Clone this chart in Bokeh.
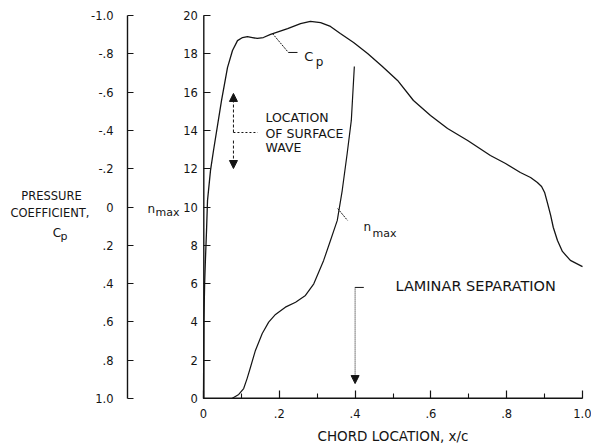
from bokeh.plotting import figure
from bokeh.models import Range1d, LinearAxis, FixedTicker, Label, Arrow, NormalHead, Grid
from bokeh.embed import file_html
from bokeh.resources import INLINE

# ---------------- data ----------------
cp_x = [0.0, 0.001, 0.003, 0.005, 0.008, 0.0106, 0.0185, 0.0264, 0.0475, 0.0633, 0.0765,
        0.0897, 0.103, 0.116, 0.129, 0.142, 0.158, 0.177, 0.222, 0.256, 0.282, 0.309,
        0.335, 0.361, 0.396, 0.433, 0.472, 0.512, 0.554, 0.599, 0.644, 0.697, 0.757,
        0.797, 0.836, 0.863, 0.881, 0.892, 0.900, 0.908, 0.916, 0.923, 0.934, 0.947,
        0.968, 1.0]
cp_val = [1.0, 0.6, 0.4, 0.279, 0.123, -0.034, -0.191, -0.295, -0.556, -0.728, -0.817,
          -0.869, -0.885, -0.890, -0.885, -0.880, -0.885, -0.901, -0.932, -0.958, -0.969, -0.963,
          -0.943, -0.906, -0.859, -0.802, -0.734, -0.661, -0.556, -0.478, -0.410, -0.347, -0.269,
          -0.227, -0.180, -0.154, -0.128, -0.107, -0.076, -0.018, 0.044, 0.107, 0.175, 0.232,
          0.279, 0.311]

nmax_x = [0.075, 0.093, 0.106, 0.115, 0.124, 0.137, 0.155, 0.172, 0.190, 0.216, 0.243,
          0.269, 0.291, 0.317, 0.335, 0.353, 0.366, 0.379, 0.390, 0.398]
nmax_val = [0.0, 0.21, 0.52, 1.04, 1.63, 2.51, 3.39, 3.99, 4.39, 4.77, 5.03,
            5.38, 5.99, 7.21, 8.25, 9.30, 10.86, 12.78, 14.52, 17.34]

x_ticks = [0, 0.2, 0.4, 0.6, 0.8, 1]
x_tick_labels = ["0", ".2", ".4", ".6", ".8", "1.0"]
x_minor_ticks = [0.1, 0.3, 0.5, 0.7, 0.9]
n_ticks = [0, 2, 4, 6, 8, 10, 12, 14, 16, 18, 20]
cp_ticks = [-1, -0.8, -0.6, -0.4, -0.2, 0, 0.2, 0.4, 0.6, 0.8, 1]
cp_tick_labels = ["-1.0", "-.8", "-.6", "-.4", "-.2", "0", ".2", ".4", ".6", ".8", "1.0"]

# ---------------- layout (pixels) ----------------
W, H = 591, 446
X0_PX, X1_PX = 203, 582      # x/c = 0 and x/c = 1
N0_PX, N20_PX = 398, 15      # n_max = 0 and n_max = 20
CP_AXIS_PX = 127             # Cp axis line
px_per_x = (X1_PX - X0_PX) / 1.0
px_per_n = (N0_PX - N20_PX) / 20.0
x_lo, x_hi = -X0_PX / px_per_x, (W - X0_PX) / px_per_x
n_lo, n_hi = -(H - N0_PX) / px_per_n, N0_PX / px_per_n
cp_lo, cp_hi = 1.0 - n_lo / 10.0, 1.0 - n_hi / 10.0
cp_axis_x = (CP_AXIS_PX - X0_PX) / px_per_x
n_axis_x = 0.3 / px_per_x        # n_max axis line position (x/c ~ 0)
x_axis_n = 0.3 / px_per_n        # x/c axis line position (n_max ~ 0)

INK = "#141414"
FONT = "DejaVu Sans"

p = figure(width=W, height=H, x_range=Range1d(x_lo, x_hi), y_range=Range1d(n_lo, n_hi),
           output_backend="svg", toolbar_location=None,
           x_axis_location=None, y_axis_location=None,
           min_border=0, min_border_left=0, min_border_right=0,
           min_border_top=0, min_border_bottom=0)
p.title.visible = False
p.extra_y_ranges = {"cp": Range1d(cp_lo, cp_hi)}
p.outline_line_color = None
p.background_fill_color = "white"
p.border_fill_color = "white"
for r in list(p.center):
    if isinstance(r, Grid):
        r.visible = False
        r.grid_line_color = None

def style_axis(ax):
    ax.axis_line_color = None
    ax.major_tick_line_color = INK
    ax.major_tick_line_width = 1.2
    ax.minor_tick_line_color = INK
    ax.minor_tick_line_width = 1.1
    ax.major_tick_out = 0
    ax.minor_tick_out = 0
    ax.major_label_text_font = FONT
    ax.major_label_text_font_size = "11.5px"
    ax.major_label_text_color = INK

# x/c axis
xa = LinearAxis(fixed_location=x_axis_n)
style_axis(xa)
xa.bounds = (x_ticks[0], x_ticks[-1])
xa.ticker = FixedTicker(ticks=x_ticks, minor_ticks=x_minor_ticks)
xa.major_label_overrides = dict(zip(x_ticks, x_tick_labels))
xa.major_tick_in = 8
xa.minor_tick_in = 5
xa.major_label_standoff = 11
p.add_layout(xa, "below")

# n_max axis
ya = LinearAxis(fixed_location=n_axis_x)
style_axis(ya)
ya.bounds = (n_ticks[0], n_ticks[-1])
ya.ticker = FixedTicker(ticks=n_ticks, minor_ticks=[])
ya.major_tick_in = 7
ya.minor_tick_in = 0
ya.major_label_standoff = 6
p.add_layout(ya, "left")

# Cp axis
cpa = LinearAxis(y_range_name="cp", fixed_location=cp_axis_x)
style_axis(cpa)
cpa.bounds = (cp_ticks[0], cp_ticks[-1])
cpa.ticker = FixedTicker(ticks=cp_ticks, minor_ticks=[])
cpa.major_label_overrides = dict(zip(cp_ticks, cp_tick_labels))
cpa.major_tick_in = 6
cpa.minor_tick_in = 0
cpa.major_label_standoff = 14
p.add_layout(cpa, "left")

# axis rules (all three as the same kind of segment on the Cp range)
cp_at_n = lambda n: 1.0 - n / 10.0
p.segment(x0=[cp_axis_x, n_axis_x, x_ticks[0]],
          y0=[cp_ticks[0], cp_at_n(n_ticks[-1]), cp_at_n(x_axis_n)],
          x1=[cp_axis_x, n_axis_x, x_ticks[-1]],
          y1=[cp_ticks[-1], cp_at_n(n_ticks[0]), cp_at_n(x_axis_n)],
          y_range_name="cp", line_color=INK, line_width=1.4)

# curves
p.line(cp_x, cp_val, y_range_name="cp", line_color=INK, line_width=1.3)
p.line(nmax_x, nmax_val, line_color=INK, line_width=1.2)

# ---------------- annotations ----------------
def txt(x, y, s, size, align="left", baseline="middle"):
    p.add_layout(Label(x=x, y=y, text=s, text_font=FONT, text_font_size=size,
                       text_color=INK, text_align=align, text_baseline=baseline))

def seg(x0, y0, x1, y1, dash="solid", head=None, width=1.0):
    p.add_layout(Arrow(x_start=x0, y_start=y0, x_end=x1, y_end=y1, end=head,
                       line_color=INK, line_width=width, line_dash=dash))

def head():
    return NormalHead(size=8, fill_color=INK, line_color=INK, line_width=1)

# axis titles
txt(0.5, -1.98, "CHORD LOCATION, x/c", "13.5px", align="center")
txt(-0.401, 10.55, "PRESSURE", "11.5px", align="center")
txt(-0.405, 9.71, "COEFFICIENT,", "11.5px", align="center")
txt(-0.398, 8.62, "C", "12px", baseline="alphabetic")
txt(-0.377, 8.45, "p", "11px", baseline="alphabetic")
txt(-0.1478, 9.92, "n", "12px", baseline="alphabetic")
txt(-0.1267, 9.71, "max", "11px", baseline="alphabetic")

# Cp curve label
seg(0.182, 19.06, 0.224, 18.07, dash="2 1")
seg(0.224, 18.07, 0.248, 18.07)
txt(0.266, 17.85, "C", "13px", baseline="alphabetic")
txt(0.296, 17.55, "p", "12px", baseline="alphabetic")

# surface wave location
txt(0.1636, 14.67, "LOCATION", "12.5px")
txt(0.1636, 13.86, "OF SURFACE", "12.5px")
txt(0.1636, 13.11, "WAVE", "12.5px")
seg(0.079, 13.89, 0.079, 15.93, dash="3 2", head=head())
seg(0.079, 13.47, 0.079, 12.01, dash="3 2", head=head())
seg(0.079, 13.89, 0.143, 13.89, dash="2 2")

# n_max curve label
seg(0.354, 9.92, 0.380, 9.30, dash="2 1")
txt(0.422, 8.93, "n", "12px", baseline="alphabetic")
txt(0.446, 8.62, "max", "11px", baseline="alphabetic")

# laminar separation
txt(0.5066, 5.85, "LAMINAR SEPARATION", "14.5px")
seg(0.4, 5.8, 0.423, 5.8)
seg(0.4, 5.8, 0.4, 0.78, dash="1 1", head=head())

open("out.html", "w").write(file_html(p, INLINE))
